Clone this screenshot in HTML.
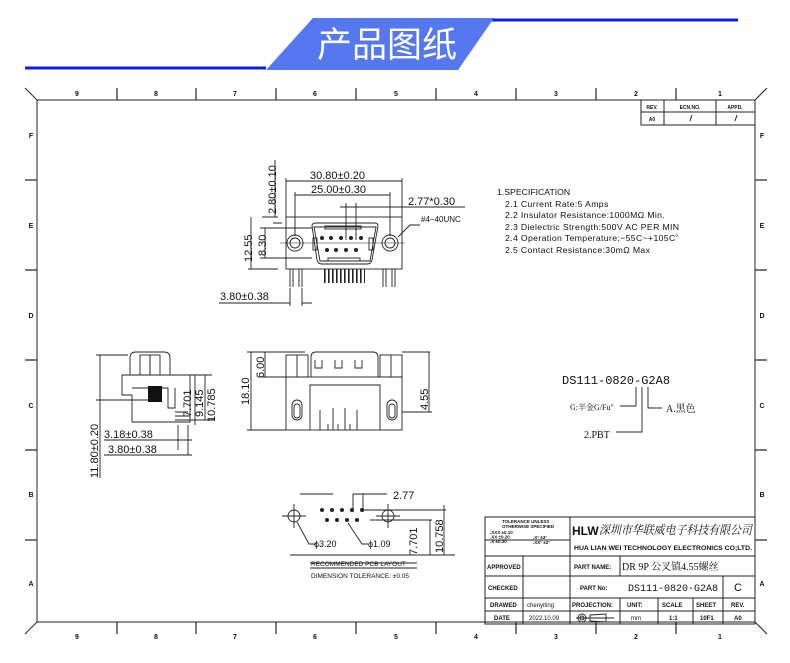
<!DOCTYPE html>
<html><head><meta charset="utf-8"><style>
html,body{margin:0;padding:0;background:#fff;width:790px;height:663px;overflow:hidden}
svg{display:block}
text{font-family:"Liberation Sans","Noto Sans CJK SC",sans-serif;fill:#111}
.s{font-family:"Liberation Serif","Noto Serif CJK SC",serif}
</style></head><body>
<svg width="790" height="663" viewBox="0 0 790 663" xmlns="http://www.w3.org/2000/svg">
<!-- header -->
<line x1="25" y1="68" x2="266" y2="68" stroke="#0a1aee" stroke-width="3"/>
<line x1="460" y1="20" x2="738" y2="20" stroke="#0a1aee" stroke-width="3"/>
<polygon points="313,18 494,18 458,70 266,70" fill="#5577f0"/>
<text x="387" y="57" font-size="35" fill="#fff" style="fill:#fff" text-anchor="middle" font-family="Noto Sans CJK SC,sans-serif">产品图纸</text>

<!-- frame -->
<g stroke="#222" fill="none" stroke-width="1">
<rect x="37" y="100" width="718" height="522"/>
<line x1="25" y1="88" x2="37" y2="100"/><line x1="767" y1="88" x2="755" y2="100"/>
<line x1="25" y1="634" x2="37" y2="622"/><line x1="767" y1="634" x2="755" y2="622"/>
<g stroke-width="1.2">
<line x1="117" y1="88" x2="117" y2="100"/><line x1="196" y1="88" x2="196" y2="100"/><line x1="276" y1="88" x2="276" y2="100"/><line x1="356" y1="88" x2="356" y2="100"/><line x1="436" y1="88" x2="436" y2="100"/><line x1="516" y1="88" x2="516" y2="100"/><line x1="596" y1="88" x2="596" y2="100"/><line x1="676" y1="88" x2="676" y2="100"/>
<line x1="117" y1="622" x2="117" y2="634"/><line x1="196" y1="622" x2="196" y2="634"/><line x1="276" y1="622" x2="276" y2="634"/><line x1="356" y1="622" x2="356" y2="634"/><line x1="436" y1="622" x2="436" y2="634"/><line x1="516" y1="622" x2="516" y2="634"/><line x1="596" y1="622" x2="596" y2="634"/><line x1="676" y1="622" x2="676" y2="634"/>
<line x1="25" y1="180" x2="37" y2="180"/><line x1="25" y1="270" x2="37" y2="270"/><line x1="25" y1="360" x2="37" y2="360"/><line x1="25" y1="450" x2="37" y2="450"/><line x1="25" y1="540" x2="37" y2="540"/>
<line x1="755" y1="180" x2="767" y2="180"/><line x1="755" y1="270" x2="767" y2="270"/><line x1="755" y1="360" x2="767" y2="360"/><line x1="755" y1="450" x2="767" y2="450"/><line x1="755" y1="540" x2="767" y2="540"/>
</g>
<!-- rev table -->
<rect x="641" y="100" width="114" height="25"/>
<line x1="641" y1="112" x2="755" y2="112"/><line x1="664" y1="100" x2="664" y2="125"/><line x1="716" y1="100" x2="716" y2="125"/>
<line x1="690" y1="121" x2="692" y2="115"/><line x1="735" y1="121" x2="737" y2="115"/>
</g>
<g font-size="7" font-weight="bold" text-anchor="middle">
<text x="77" y="96">9</text><text x="156" y="96">8</text><text x="235" y="96">7</text><text x="315" y="96">6</text><text x="396" y="96">5</text><text x="476" y="96">4</text><text x="556" y="96">3</text><text x="636" y="96">2</text><text x="720" y="96">1</text>
<text x="77" y="639">9</text><text x="156" y="639">8</text><text x="235" y="639">7</text><text x="315" y="639">6</text><text x="396" y="639">5</text><text x="476" y="639">4</text><text x="556" y="639">3</text><text x="636" y="639">2</text><text x="720" y="639">1</text>
<text x="31" y="138">F</text><text x="31" y="228">E</text><text x="31" y="318">D</text><text x="31" y="408">C</text><text x="31" y="497">B</text><text x="31" y="586">A</text>
<text x="762" y="138">F</text><text x="762" y="228">E</text><text x="762" y="318">D</text><text x="762" y="408">C</text><text x="762" y="497">B</text><text x="762" y="586">A</text>
<text x="652" y="109" font-size="5">REV.</text><text x="690" y="109" font-size="5">ECN.NO.</text><text x="735" y="109" font-size="5">APPD.</text><text x="652" y="121" font-size="5">A0</text>
</g>

<!-- front view top -->
<g stroke="#222" fill="none" stroke-width="0.9">
<rect x="286" y="217" width="116" height="52"/>
<path d="M312,226 Q312,223 316,223 L374,223 Q378,223 378,226 L372,260 Q371,264 367,264 L322,264 Q318,264 317,260 Z"/>
<path d="M314,227 L376,227 L370,261 L320,261 Z"/>
<rect x="325" y="226" width="36" height="3"/><rect x="328" y="258" width="32" height="3"/>
<circle cx="295" cy="243" r="8"/><circle cx="295" cy="243" r="5"/><circle cx="390" cy="243" r="8"/><circle cx="390" cy="243" r="5"/>
<rect x="313" y="238" width="4" height="12"/><rect x="369" y="238" width="4" height="12"/>
<line x1="280" y1="243" x2="405" y2="243" stroke-width="0.5"/>
<path d="M290,269 V287 M293,269 V287 M299,269 V287 M302,269 V287 M383,269 V287 M386,269 V287 M392,269 V287 M395,269 V287"/>
<path d="M286,217 V178 M402,217 V178 M286,181 H402 M295,236 V192 M390,236 V192 M295,195 H390 M340,207 H465 M346,203 V240 M356,203 V240"/>
<path d="M278,217 H262 M278,269 H248 M251,217 V269 M265,228 V258 M260,228 H312 M260,258 H312 M275,217 V160 M273,223 H282 M398,237 L410,225 H420"/>
<path d="M219,303 H290 M290,288 V306 M302,288 V306 M302,303 H312"/>
</g>
<defs><pattern id="st" width="4" height="4" patternUnits="userSpaceOnUse"><rect width="1.6" height="4" fill="#222"/></pattern></defs>
<g fill="#222"><circle cx="322" cy="238" r="2"/><circle cx="331" cy="238" r="2"/><circle cx="341" cy="238" r="2"/><circle cx="351" cy="238" r="2"/><circle cx="361" cy="238" r="2"/><circle cx="327" cy="250" r="2"/><circle cx="336" cy="250" r="2"/><circle cx="346" cy="250" r="2"/><circle cx="356" cy="250" r="2"/>
<rect x="322" y="269" width="43" height="14" fill="url(#st)"/></g>
<g font-size="11" fill="#222">
<text x="310" y="179">30.80±0.20</text><text x="311" y="193">25.00±0.30</text><text x="408" y="205">2.77*0.30</text>
<text x="421" y="222" font-size="8">#4−40UNC</text>
<text x="220" y="300">3.80±0.38</text>
<text transform="translate(276,214) rotate(-90)">2.80±0.10</text>
<text transform="translate(252,262) rotate(-90)">12.55</text>
<text transform="translate(266,256) rotate(-90)">8.30</text>
</g>

<!-- spec -->
<g font-size="8.7" fill="#222" letter-spacing="0.35">
<text x="497" y="195" letter-spacing="0">1.SPECIFICATION</text>
<text x="505" y="207">2.1  Current  Rate:5  Amps</text>
<text x="505" y="218">2.2  Insulator  Resistance:1000MΩ  Min.</text>
<text x="505" y="230">2.3  Dielectric  Strength:500V  AC  PER  MIN</text>
<text x="505" y="241">2.4  Operation  Temperature:−55C~+105C˚</text>
<text x="505" y="253">2.5  Contact  Resistance:30mΩ  Max</text>
</g>

<!-- side view left -->
<g stroke="#222" fill="none" stroke-width="0.9">
<path d="M130,375 V358 Q130,352 136,352 H164 Q170,352 170,358 V375"/>
<rect x="140" y="355" width="10" height="20"/><rect x="150" y="355" width="10" height="20"/>
<path d="M122,375 H190 V422 H132 V395 H122 Z"/>
<path d="M132,388 H168 V408 H175 V388"/>
<path d="M175,412 H188 M175,416 H190 M175,420 H188"/>
<path d="M96,355 H128 M96,400 H150 M100,355 V478"/>
<path d="M182,375 H212 M205,375 V420 M195,375 V425 M188,420 H215"/>
<path d="M178,425 V450 M188,425 V455 M104,440 H192 M104,455 H192"/>
</g>
<rect x="148" y="386" width="14" height="16" fill="#111"/>
<g font-size="11" fill="#222">
<text x="104" y="438">3.18±0.38</text><text x="108" y="453">3.80±0.38</text>
<text transform="translate(98,478) rotate(-90)">11.80±0.20</text>
<text transform="translate(191,417) rotate(-90)">7.701</text>
<text transform="translate(203,417) rotate(-90)">9.145</text>
<text transform="translate(215,422) rotate(-90)">10.785</text>
</g>

<!-- middle view -->
<g stroke="#222" fill="none" stroke-width="0.9">
<rect x="286" y="377" width="116" height="53"/>
<path d="M311,377 V357 Q311,352 316,352 H373 Q378,352 378,357 V377"/>
<rect x="286" y="355" width="22" height="22"/>
<rect x="380" y="355" width="22" height="22"/><line x1="391" y1="355" x2="391" y2="377"/><line x1="297" y1="355" x2="297" y2="377"/>
<path d="M315,360 V368 H322 V360 M335,360 V368 H342 V360 M355,360 V368 H362 V360"/>
<path d="M310,430 V385 H380 V430"/>
<rect x="292" y="400" width="10" height="20" rx="5"/><rect x="294" y="404" width="6" height="14" rx="3"/>
<rect x="387" y="400" width="10" height="20" rx="5"/><rect x="389" y="404" width="6" height="14" rx="3"/>
<path d="M320,430 V410 M328,430 V424 M333,430 V408 M338,430 V424 M345,430 V408 M350,430 V424 M357,430 V410"/>
<path d="M247,352 H305 M247,430 H286 M251,352 V430 M265,352 V377 M262,377 H286 M402,352 H430 M402,412 H432 M429,352 V412"/>
</g>
<g font-size="11" fill="#222">
<text transform="translate(249,405) rotate(-90)">18.10</text>
<text transform="translate(264,378) rotate(-90)">6.00</text>
<text transform="translate(428,410) rotate(-90)">4.55</text>
</g>

<!-- part number -->
<g font-size="11" fill="#222">
<text x="562" y="384" style="font-family:'Liberation Mono',monospace" font-size="12">DS111-0820-G2A8</text>
<text x="570" y="410" font-size="8" class="s">G:半金G/Fu"</text>
<text x="666" y="412" font-size="10" class="s">A.黑色</text>
<text x="584" y="438" font-size="10" class="s">2.PBT</text>
</g>
<g stroke="#222" fill="none" stroke-width="0.9"><path d="M620,406 H636 V387 M648,387 V408 H662 M642,387 V432 H616"/></g>

<!-- pcb layout -->
<g stroke="#222" fill="none" stroke-width="0.9">
<path d="M300,494 H333 M353,494 H387 M353,494 V512 M363,494 V512"/>
<circle cx="294" cy="516" r="6"/><circle cx="388" cy="516" r="6"/>
<path d="M282,516 H306 M294,504 V528 M376,516 H400 M388,504 V528"/>
<path d="M360,510 H446 M370,520 H432 M444,505 V555 M430,520 V555 M290,555 H455"/>
<path d="M297,522 L309,544 H316 M348,523 L362,544 H368"/>
<path d="M310,563 H417 M310,568 H417"/>
</g>
<g fill="#222"><circle cx="322" cy="510" r="2"/><circle cx="332" cy="510" r="2"/><circle cx="342" cy="510" r="2"/><circle cx="352" cy="510" r="2"/><circle cx="362" cy="510" r="2"/><circle cx="327" cy="520" r="2"/><circle cx="337" cy="520" r="2"/><circle cx="347" cy="520" r="2"/><circle cx="357" cy="520" r="2"/></g>
<g font-size="11" fill="#222">
<text x="393" y="499">2.77</text><text x="314" y="547" font-size="9">ϕ3.20</text><text x="368" y="547" font-size="9">ϕ1.09</text>
<text transform="translate(443,553) rotate(-90)">10.758</text>
<text transform="translate(417,555) rotate(-90)">7.701</text>
<text x="311" y="566" font-size="6.5">RECOMMENDED  PCB  LAYOUT</text>
<text x="311" y="578" font-size="6.5">DIMENSION  TOLERANCE:  ±0.05</text>
</g>

<!-- title block -->
<g stroke="#222" fill="none" stroke-width="1">
<rect x="485" y="517" width="270" height="107"/>
<path d="M485,540 H570 M485,556 H755 M485,576 H755 M485,598 H755 M485,611 H755"/>
<path d="M523,556 V624 M570,517 V624 M620,556 V576 M620,598 V624 M658,598 V624 M693,598 V624 M723,576 V624"/>
</g>
<g font-size="6" font-weight="bold" fill="#222">
<text x="502" y="523" font-size="4.5">TOLERANCE UNLESS</text><text x="502" y="528" font-size="4.5">OTHERWISE SPECIFIED</text>
<text x="490" y="534" font-size="4.5">.XXX ±0.10</text><text x="490" y="538.5" font-size="4.5">.XX ±0.20</text><text x="490" y="543" font-size="4.5">.X  ±0.30</text>
<text x="533" y="539" font-size="4.5">.X° ±3°</text><text x="533" y="544" font-size="4.5">.XX° ±2°</text>
<text x="487" y="569">APPROVED</text><text x="488" y="590">CHECKED</text><text x="490" y="607">DRAWED</text><text x="494" y="620">DATE</text>
<text x="574" y="569">PART NAME:</text><text x="580" y="590">PART No:</text><text x="572" y="607">PROJECTION:</text>
<text x="627" y="607">UNIT:</text><text x="662" y="607">SCALE</text><text x="696" y="607">SHEET</text><text x="731" y="607">REV.</text>
<text x="631" y="620" font-weight="normal">mm</text><text x="669" y="620">1:1</text><text x="700" y="620">10F1</text><text x="734" y="620">A0</text>
<text x="574" y="550" textLength="178" lengthAdjust="spacingAndGlyphs">HUA LIAN WEI TECHNOLOGY ELECTRONICS CO;LTD.</text>
</g>
<g fill="#222">
<text x="572" y="535" font-size="12" font-weight="bold">HLW</text>
<text x="599" y="534" font-size="12" font-style="italic" class="s" textLength="153" lengthAdjust="spacingAndGlyphs">深圳市华联威电子科技有限公司</text>
<text x="622" y="570" font-size="10" class="s">DR 9P 公叉镇4.55螺丝</text>
<text x="628" y="591" font-size="10" style="font-family:'Liberation Mono',monospace">DS111-0820-G2A8</text>
<text x="734" y="591" font-size="11">C</text>
<text x="527" y="607" font-size="6">chenyiting</text><text x="529" y="620" font-size="6">2022.10.09</text>
</g>
<g stroke="#222" fill="none" stroke-width="0.9"><circle cx="582" cy="618" r="4"/><circle cx="582" cy="618" r="2"/><path d="M576,618 H614 M590,615 L606,614 V622 L590,621 Z"/></g>
</svg>
</body></html>
